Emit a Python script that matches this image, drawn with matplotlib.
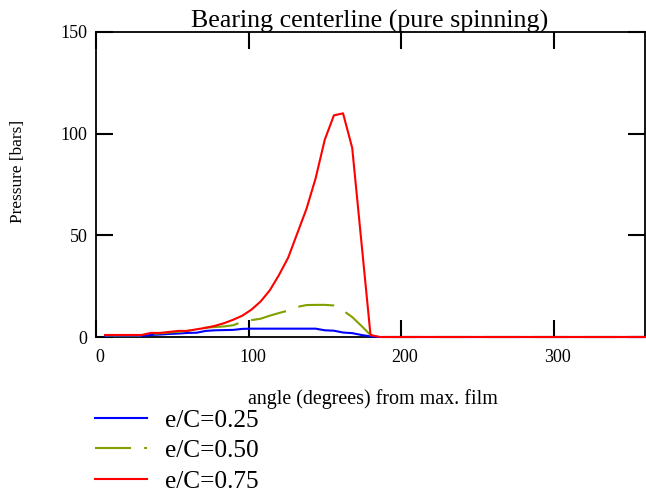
import matplotlib
matplotlib.use('Agg')
import matplotlib.pyplot as plt
from matplotlib.transforms import ScaledTranslation

plt.rcParams['font.family'] = ['Liberation Serif', 'DejaVu Serif']

# angle from max. film (deg)
angles = [6, 12, 18, 24, 30, 36, 42, 48, 54, 60, 66, 72, 78, 84, 90, 96,
          102, 108, 114, 120, 126, 132, 138, 144, 150, 156, 162, 168, 174,
          180, 186, 360]

p025 = [0.5, 0.5, 0.5, 0.5, 0.5, 1.0, 1.2, 1.5, 1.7, 2.0, 2.1, 3.0, 3.3,
        3.4, 3.5, 4.0, 4.1, 4.1, 4.1, 4.1, 4.1, 4.1, 4.1, 4.1, 3.3, 3.1,
        2.2, 1.9, 1.0, 0.3, 0.0, 0.0]
p050 = [0.8, 0.8, 0.8, 0.8, 0.8, 1.5, 1.8, 2.2, 2.6, 3.0, 4.2, 4.6, 4.9,
        5.2, 5.8, 7.5, 8.3, 9.0, 10.5, 11.8, 13.0, 14.8, 15.7, 15.8, 15.8,
        15.5, 13.0, 9.8, 5.5, 1.0, 0.0, 0.0]
p075 = [1.0, 1.0, 1.0, 1.0, 1.0, 2.0, 2.0, 2.5, 3.0, 3.0, 3.8, 4.5, 5.5,
        6.8, 8.5, 10.5, 13.5, 17.5, 23.0, 30.5, 39.0, 51.0, 63.0, 78.0,
        97.0, 109.0, 110.0, 93.0, 47.0, 1.0, 0.0, 0.0]

labels = ['e/C=0.25', 'e/C=0.50', 'e/C=0.75']
xticks = [0, 100, 200, 300]
yticks = [0, 50, 100, 150]

fig = plt.figure(figsize=(6.46, 4.97), dpi=100)
ax = fig.add_axes([96/646, 1-337/497, 549/646, 305/497])

ax.plot(angles, p025, color='#0000ff', lw=1.5, label=labels[0], zorder=3, clip_on=False)
ax.plot(angles, p050, color='#80a000', lw=1.5, label=labels[1], zorder=3, clip_on=False,
        linestyle=(0, (17.3, 6.3)))
ax.plot(angles, p075, color='#ff0000', lw=1.5, label=labels[2], zorder=3, clip_on=False)

ax.set_xlim(0, 360)
ax.set_ylim(0, 150)
ax.set_xticks(xticks)
ax.set_yticks(yticks)
ax.tick_params(direction='in', length=12, width=1.5, top=True, right=True,
               labelsize=13, colors='black')
ax.tick_params(axis='x', pad=9)
ax.tick_params(axis='y', pad=6)
for s in ax.spines.values():
    s.set_linewidth(1.3)

for lab in ax.get_xticklabels():
    lab.set_transform(lab.get_transform() + ScaledTranslation(4/100, 0, fig.dpi_scale_trans))

fig.text(370/646, 1-28/497, 'Bearing centerline (pure spinning)', fontsize=18.7,
         ha='center', va='baseline')
fig.text(373/646, 1-399/497, 'angle (degrees) from max. film', fontsize=14.4,
         ha='center', va='center')
fig.text(18/646, 1-171/497, 'Pressure [bars]', fontsize=12.4, rotation=90,
         ha='center', va='center')

fig.legend(loc='upper left', bbox_to_anchor=(95/646, 1-409/497), frameon=False,
           fontsize=18.3, handlelength=2.05, handletextpad=0.72, labelspacing=0.3,
           borderpad=0, borderaxespad=0)

fig.savefig('out.png', dpi=100)
